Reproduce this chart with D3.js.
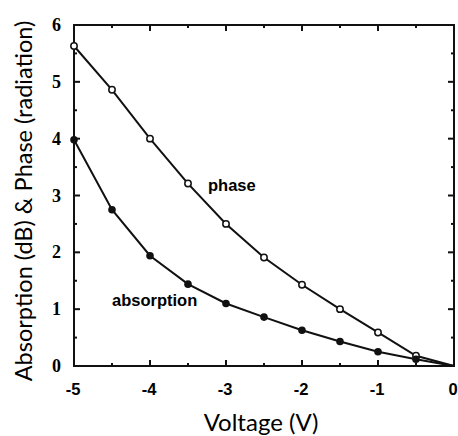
<!DOCTYPE html>
<html>
<head>
<meta charset="utf-8">
<script src="https://cdn.jsdelivr.net/npm/d3@7"></script>
<style>
  body { margin: 0; background: #fff; }
  svg { display: block; }
</style>
</head>
<body>
<svg width="458" height="436"></svg>
<script>
// voltage steps (V)
var voltage = [-5, -4.5, -4, -3.5, -3, -2.5, -2, -1.5, -1, -0.5, 0];
// phase (radiation), open circles
var phase = [5.63, 4.86, 4.0, 3.21, 2.5, 1.91, 1.43, 1.0, 0.59, 0.18, 0];
// absorption (dB), filled circles
var absorption = [3.98, 2.75, 1.94, 1.44, 1.1, 0.86, 0.63, 0.43, 0.25, 0.12, 0];

var xTicks = [-5, -4, -3, -2, -1, 0];
var yTicks = [0, 1, 2, 3, 4, 5, 6];

var svg = d3.select("svg"),
    margin = {left: 74, right: 4, top: 25, bottom: 70},
    width = +svg.attr("width"),
    height = +svg.attr("height");

var x = d3.scaleLinear().domain([-5, 0]).range([margin.left, width - margin.right]);
var y = d3.scaleLinear().domain([0, 6]).range([height - margin.bottom, margin.top]);

var g = svg.append("g");

// frame
g.append("rect")
    .attr("x", x(-5))
    .attr("y", y(6))
    .attr("width", x(0) - x(-5))
    .attr("height", y(0) - y(6))
    .attr("fill", "none")
    .attr("stroke", "#111")
    .attr("stroke-width", 2);

// inward ticks on all four sides
var xMinor = d3.range(-4.5, 0, 1);
var yMinor = d3.range(0.5, 6, 1);

function xTickMarks(vals, len) {
    vals.forEach(function (v) {
        if (v == -5 || v == 0) return;
        g.append("line").attr("x1", x(v)).attr("x2", x(v))
            .attr("y1", y(0)).attr("y2", y(0) - len)
            .attr("stroke", "#111").attr("stroke-width", 2);
        g.append("line").attr("x1", x(v)).attr("x2", x(v))
            .attr("y1", y(6)).attr("y2", y(6) + len)
            .attr("stroke", "#111").attr("stroke-width", 2);
    });
}
function yTickMarks(vals, len) {
    vals.forEach(function (v) {
        if (v == 0 || v == 6) return;
        g.append("line").attr("x1", x(-5)).attr("x2", x(-5) + len)
            .attr("y1", y(v)).attr("y2", y(v))
            .attr("stroke", "#111").attr("stroke-width", 2);
        g.append("line").attr("x1", x(0)).attr("x2", x(0) - len)
            .attr("y1", y(v)).attr("y2", y(v))
            .attr("stroke", "#111").attr("stroke-width", 2);
    });
}
xTickMarks(xTicks, 6);
xTickMarks(xMinor, 3);
yTickMarks(yTicks, 6);
yTickMarks(yMinor, 3);

// tick labels
g.selectAll(".xl").data(xTicks).enter().append("text")
    .attr("x", function (d) { return x(d) - 1; })
    .attr("y", 395)
    .attr("text-anchor", "middle")
    .style("font-family", "Liberation Sans, Arial, sans-serif")
    .style("font-weight", "bold")
    .style("font-size", "16.5px")
    .text(function (d) { return d; });

g.selectAll(".yl").data(yTicks).enter().append("text")
    .attr("x", 61)
    .attr("y", function (d) { return y(d) + 6; })
    .attr("text-anchor", "end")
    .style("font-family", "Liberation Serif, Times New Roman, serif")
    .style("font-weight", "bold")
    .style("font-size", "18px")
    .text(function (d) { return d; });

// axis titles
svg.append("text")
    .attr("x", 261)
    .attr("y", 431)
    .attr("text-anchor", "middle")
    .style("font-family", "Lato, sans-serif")
    .style("font-size", "24px")
    .text("Voltage (V)");

svg.append("text")
    .attr("transform", "translate(32," + 201 + ") rotate(-90)")
    .attr("text-anchor", "middle")
    .style("font-family", "Lato, sans-serif")
    .style("font-size", "23.5px")
    .text("Absorption (dB) & Phase (radiation)");

// series
var line = d3.line()
    .x(function (d) { return x(d[0]); })
    .y(function (d) { return y(d[1]); });

var phaseData = d3.zip(voltage, phase);
var absData = d3.zip(voltage, absorption);

g.append("path").datum(phaseData)
    .attr("d", line).attr("fill", "none")
    .attr("stroke", "#111").attr("stroke-width", 2);
g.append("path").datum(absData)
    .attr("d", line).attr("fill", "none")
    .attr("stroke", "#111").attr("stroke-width", 2);

g.selectAll(".pp").data(phaseData.slice(0, -1)).enter().append("circle")
    .attr("cx", function (d) { return x(d[0]); })
    .attr("cy", function (d) { return y(d[1]); })
    .attr("r", 3.2)
    .attr("fill", "#fff")
    .attr("stroke", "#111")
    .attr("stroke-width", 1.5);

g.selectAll(".ap").data(absData.slice(0, -1)).enter().append("circle")
    .attr("cx", function (d) { return x(d[0]); })
    .attr("cy", function (d) { return y(d[1]); })
    .attr("r", 3.8)
    .attr("fill", "#111");

// series labels
g.append("text")
    .attr("x", 208).attr("y", 191)
    .style("font-family", "Liberation Sans, Arial, sans-serif")
    .style("font-weight", "bold")
    .style("font-size", "16.5px")
    .text("phase");

g.append("text")
    .attr("x", 112).attr("y", 306)
    .style("font-family", "Liberation Sans, Arial, sans-serif")
    .style("font-weight", "bold")
    .style("font-size", "16.5px")
    .text("absorption");
</script>
</body>
</html>
